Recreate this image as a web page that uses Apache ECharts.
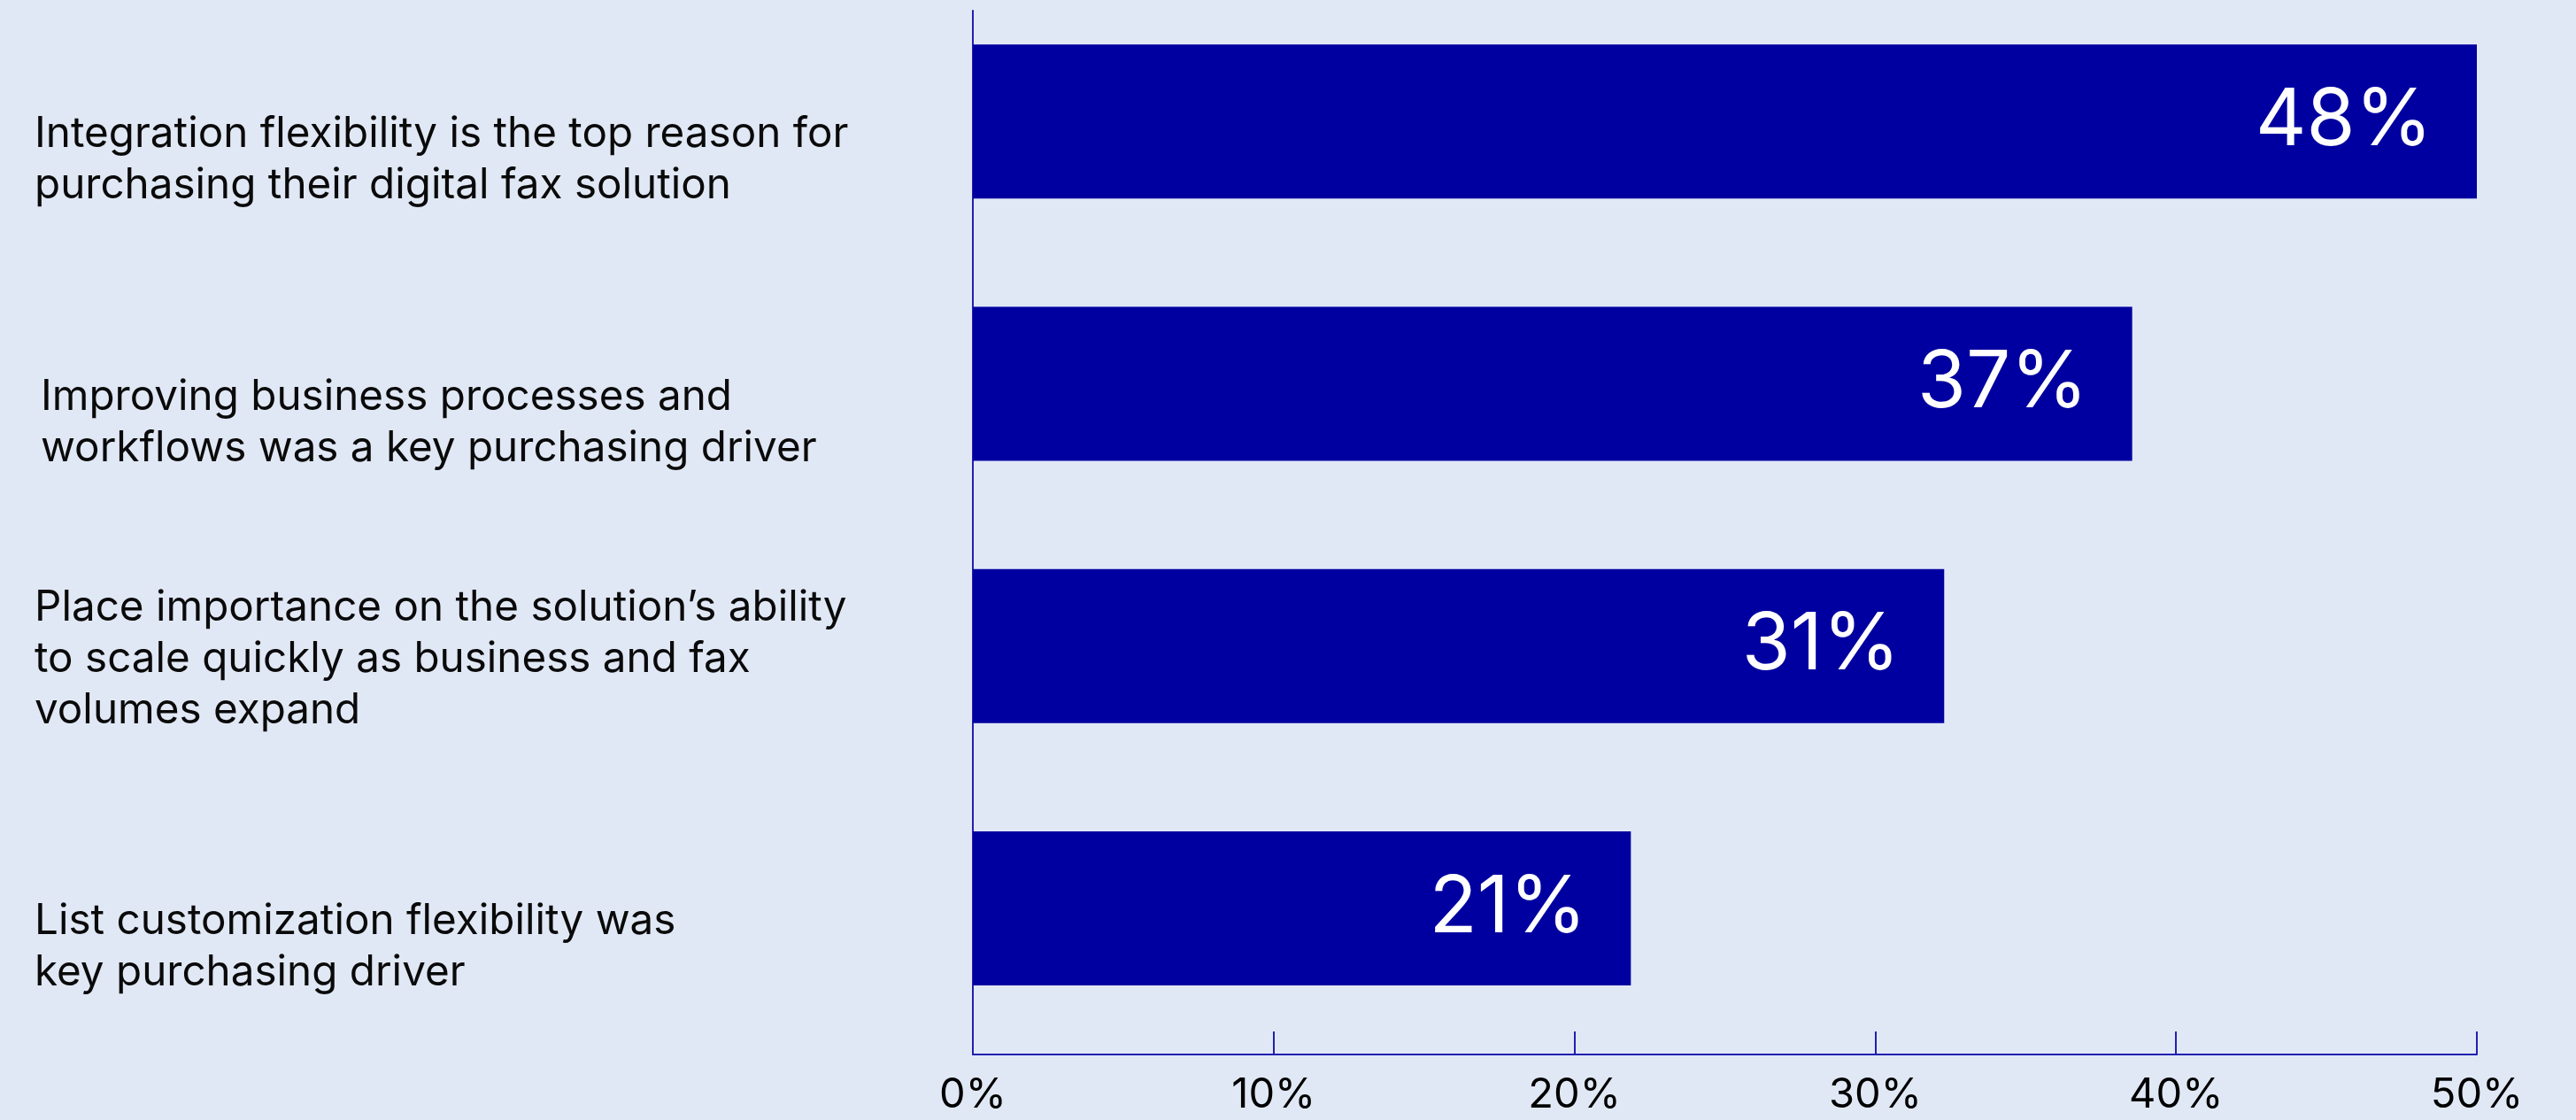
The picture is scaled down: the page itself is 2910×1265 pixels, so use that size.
<!DOCTYPE html>
<html>
<head>
<meta charset="utf-8">
<script src="https://cdn.jsdelivr.net/npm/echarts@6/dist/echarts.min.js"></script>
<style>
  html, body { margin: 0; padding: 0; background: #E1E8F5; }
  #chart { width: 2910px; height: 1265px; }
</style>
</head>
<body>
<div id="chart"></div>
<script>
const categories = [
  'Integration flexibility is the top reason for\npurchasing their digital fax solution',
  'Improving business processes and\nworkflows was a key purchasing driver',
  'Place importance on the solution\u2019s ability\nto scale quickly as business and fax\nvolumes expand',
  'List customization flexibility was\nkey purchasing driver'
];
const values = [48, 37, 31, 21];
const tickLabels = ['0%', '10%', '20%', '30%', '40%', '50%'];

const FONT = 'Inter, "Noto Sans", sans-serif';
const AXIS_COLOR = '#2020b0';
const X_MAX = 48;
const X_INTERVAL = X_MAX / (tickLabels.length - 1);

const chart = echarts.init(document.getElementById('chart'), null, { renderer: 'canvas' });

const gridLeft = 1099, gridRight = 112;

const catLabelStyle = {
  show: true, margin: 9, align: 'left', verticalAlign: 'bottom',
  fontSize: 47.6, lineHeight: 58, color: '#0a0a0a', fontFamily: FONT
};

chart.setOption({
  backgroundColor: '#E1E8F5',
  animation: false,
  grid: [
    { left: gridLeft, right: gridRight, top: -11, height: 1185, outerBoundsMode: 'none', containLabel: false },   // bars
    { left: 0, width: 30, top: 91, height: 1185, outerBoundsMode: 'none', containLabel: false },                  // category labels
    { left: gridLeft, right: gridRight, top: 12, height: 1179, outerBoundsMode: 'none', containLabel: false }     // axes
  ],
  xAxis: [
    { gridIndex: 0, type: 'value', min: 0, max: X_MAX, show: false },
    { gridIndex: 1, type: 'value', min: 0, max: X_MAX, show: false },
    {
      gridIndex: 2, type: 'value', min: 0, max: X_MAX, interval: X_INTERVAL,
      axisLine: { show: true, lineStyle: { color: AXIS_COLOR, width: 2 } },
      axisTick: { show: true, inside: true, length: 26, lineStyle: { color: AXIS_COLOR, width: 2 } },
      splitLine: { show: false },
      axisLabel: {
        show: true, margin: 22, fontSize: 47, color: '#000000', fontFamily: FONT,
        formatter: (v, i) => tickLabels[i]
      }
    }
  ],
  yAxis: [
    { gridIndex: 0, type: 'category', inverse: true, data: categories, show: false },
    {
      gridIndex: 1, type: 'category', inverse: true, position: 'right',
      data: categories.map((c, i) => i === 1
        ? { value: c, textStyle: Object.assign({}, catLabelStyle, { padding: [0, 0, 0, 7] }) }
        : c),
      axisLine: { show: false }, axisTick: { show: false },
      axisLabel: catLabelStyle
    },
    {
      gridIndex: 2, type: 'value', min: 0, max: 1,
      axisLine: { show: true, lineStyle: { color: AXIS_COLOR, width: 2 } },
      axisTick: { show: false }, axisLabel: { show: false }, splitLine: { show: false }
    }
  ],
  series: [
    {
      type: 'bar', xAxisIndex: 0, yAxisIndex: 0,
      data: values, barWidth: 174,
      itemStyle: { color: '#0000A0' },
      label: {
        show: true, position: 'insideRight', distance: 50,
        formatter: '{c}%', color: '#ffffff', fontSize: 89, fontFamily: FONT
      }
    },
    {
      type: 'bar', xAxisIndex: 1, yAxisIndex: 1,
      data: values.map(() => 0), itemStyle: { color: 'transparent' }, silent: true
    }
  ]
});
</script>
</body>
</html>
